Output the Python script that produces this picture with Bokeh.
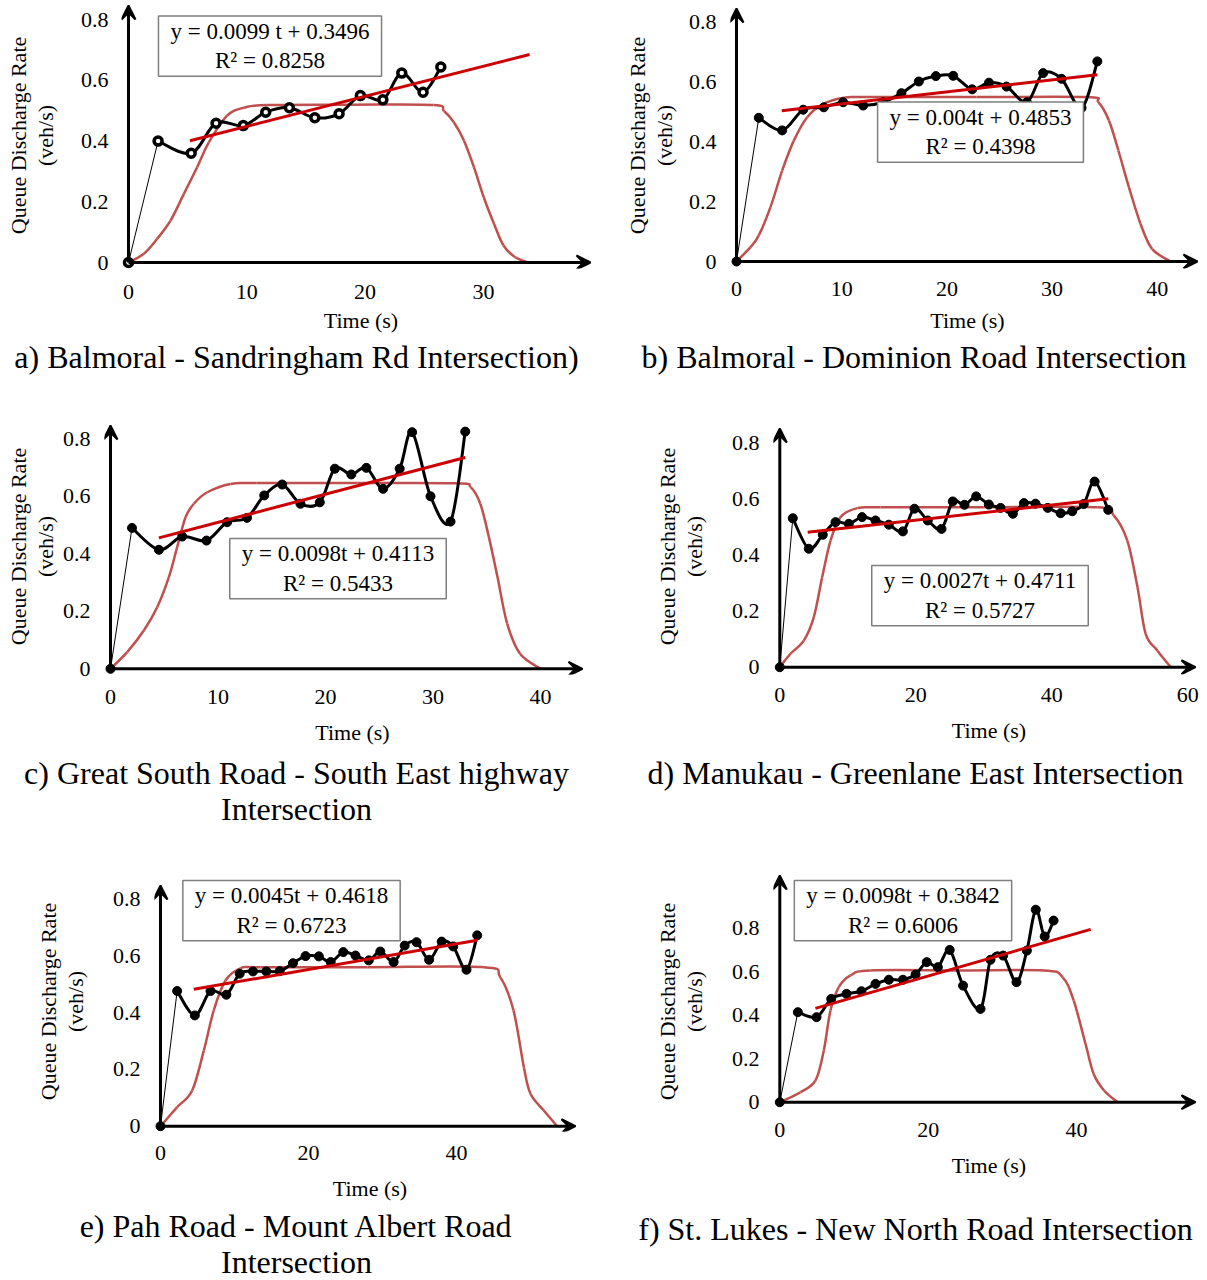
import numpy as np
from bokeh.plotting import figure
from bokeh.models import Range1d, FixedTicker, Arrow, VeeHead, Label, NumeralTickFormatter
from bokeh.layouts import column, row
from bokeh.embed import file_html
from bokeh.resources import INLINE

FONT = "Liberation Serif"
Y_LABEL = "Queue Discharge Rate\n(veh/s)"
X_LABEL = "Time (s)"
Y_TICKS = [0, 0.2, 0.4, 0.6, 0.8]

# ---------------- a) ----------------
a_time = [0, 2.5, 5.3, 7.4, 9.7, 11.6, 13.6, 15.75, 17.8, 19.6, 21.5, 23.1, 24.9, 26.4]
a_rate = [0, 0.40, 0.36, 0.459, 0.451, 0.495, 0.51, 0.477, 0.49, 0.55, 0.536, 0.624, 0.561, 0.644]
a_curve_time = [0, 1.3, 2.42, 3.55, 4.68, 5.8, 6.79, 8.34, 9.75, 11.7, 18.8, 25.8, 26.65, 27.5, 28.35, 29.2, 30.03, 30.9, 31.7, 32.7, 33.8]
a_curve_rate = [0, 0.029, 0.078, 0.138, 0.226, 0.314, 0.396, 0.484, 0.51, 0.519, 0.52, 0.519, 0.50, 0.462, 0.402, 0.314, 0.215, 0.127, 0.056, 0.017, 0]
a_slope, a_intercept = 0.0099, 0.3496
a_trend_span = [5.2, 33.9]
a_equation = "y = 0.0099 t + 0.3496\nR² = 0.8258"
a_caption = "a) Balmoral - Sandringham Rd Intersection)"
a_xticks = [0, 10, 20, 30]

# ---------------- b) ----------------
b_time = [0, 2.12, 4.34, 6.34, 8.3, 10.14, 12.04, 13.94, 15.68, 17.33, 18.95, 20.6, 22.4, 24.0, 25.67, 27.6, 29.15, 30.9, 32.8, 34.3]
b_rate = [0, 0.479, 0.437, 0.506, 0.514, 0.531, 0.52, 0.531, 0.561, 0.60, 0.618, 0.619, 0.574, 0.596, 0.583, 0.531, 0.628, 0.609, 0.512, 0.667]
b_curve_time = [0, 1.33, 2.12, 3.23, 4.34, 5.45, 6.72, 8.3, 10.2, 12.4, 22.8, 33.3, 34.4, 35.4, 36.3, 37.3, 38.4, 39.5, 41.25]
b_curve_rate = [0, 0.048, 0.087, 0.181, 0.303, 0.403, 0.481, 0.526, 0.546, 0.548, 0.548, 0.548, 0.531, 0.47, 0.37, 0.248, 0.126, 0.042, 0]
b_slope, b_intercept = 0.004, 0.4853
b_trend_span = [4.3, 34.3]
b_equation = "y = 0.004t + 0.4853\nR² = 0.4398"
b_caption = "b) Balmoral - Dominion Road Intersection"
b_xticks = [0, 10, 20, 30, 40]

# ---------------- c) ----------------
c_time = [0, 2.0, 4.5, 6.67, 8.93, 10.85, 12.7, 14.3, 15.97, 17.67, 19.47, 20.87, 22.4, 23.8, 25.36, 26.9, 28.06, 29.77, 31.63, 33.0]
c_rate = [0, 0.49, 0.414, 0.46, 0.446, 0.51, 0.525, 0.603, 0.641, 0.574, 0.579, 0.696, 0.676, 0.699, 0.626, 0.696, 0.823, 0.60, 0.512, 0.825]
c_curve_time = [0, 1.55, 3.1, 4.34, 5.43, 6.2, 6.98, 7.75, 9.0, 11.16, 13.6, 23.0, 32.25, 33.5, 34.4, 35.2, 36.0, 36.9, 38.1, 40.0]
c_curve_rate = [0, 0.058, 0.133, 0.214, 0.319, 0.423, 0.527, 0.574, 0.614, 0.643, 0.646, 0.646, 0.645, 0.632, 0.574, 0.458, 0.319, 0.157, 0.052, 0]
c_slope, c_intercept = 0.0098, 0.4113
c_trend_span = [4.5, 33.0]
c_equation = "y = 0.0098t + 0.4113\nR² = 0.5433"
c_caption = "c) Great South Road - South East highway\nIntersection"
c_xticks = [0, 10, 20, 30, 40]

# ---------------- d) ----------------
d_time = [0, 1.91, 4.26, 6.32, 8.19, 10.15, 12.1, 14.07, 16.03, 18.1, 19.8, 21.76, 23.78, 25.44, 27.16, 28.88, 30.74, 32.46, 34.27, 35.9, 37.6, 39.4, 41.3, 43.0, 44.7, 46.3, 48.3]
d_rate = [0, 0.532, 0.423, 0.473, 0.518, 0.512, 0.536, 0.524, 0.509, 0.485, 0.566, 0.524, 0.494, 0.592, 0.58, 0.61, 0.581, 0.569, 0.548, 0.586, 0.584, 0.569, 0.55, 0.557, 0.583, 0.663, 0.562]
d_curve_time = [0, 1.57, 3.53, 5.0, 6.23, 7.46, 8.93, 11.4, 14.8, 30.0, 46.7, 49.1, 51.1, 52.6, 53.8, 55.5, 57.5]
d_curve_rate = [0, 0.048, 0.095, 0.179, 0.321, 0.452, 0.536, 0.568, 0.571, 0.571, 0.571, 0.542, 0.452, 0.286, 0.119, 0.06, 0]
d_slope, d_intercept = 0.0027, 0.4711
d_trend_span = [4.1, 48.3]
d_equation = "y = 0.0027t + 0.4711\nR² = 0.5727"
d_caption = "d) Manukau - Greenlane East Intersection"
d_xticks = [0, 20, 40, 60]

# ---------------- e) ----------------
e_time = [0, 2.25, 4.64, 6.76, 8.9, 10.7, 12.5, 14.3, 16.1, 17.9, 19.6, 21.4, 23.0, 24.7, 26.35, 28.15, 29.7, 31.5, 33.0, 34.6, 36.3, 38.0, 39.55, 41.35, 42.8]
e_rate = [0, 0.476, 0.39, 0.476, 0.463, 0.537, 0.545, 0.545, 0.546, 0.574, 0.599, 0.598, 0.578, 0.613, 0.601, 0.584, 0.615, 0.578, 0.636, 0.648, 0.586, 0.65, 0.633, 0.551, 0.672]
e_curve_time = [0, 2.25, 4.28, 5.86, 7.2, 8.78, 10.8, 13.5, 28.0, 43.7, 45.9, 47.7, 49.1, 50.0, 51.8, 53.6]
e_curve_rate = [0, 0.067, 0.126, 0.267, 0.408, 0.513, 0.556, 0.56, 0.56, 0.56, 0.525, 0.408, 0.208, 0.114, 0.055, 0]
e_slope, e_intercept = 0.0045, 0.4618
e_trend_span = [4.5, 42.8]
e_equation = "y = 0.0045t + 0.4618\nR² = 0.6723"
e_caption = "e) Pah Road - Mount Albert Road\nIntersection"
e_xticks = [0, 20, 40]

# ---------------- f) ----------------
f_time = [0, 2.43, 4.95, 6.93, 8.99, 11.0, 12.9, 14.7, 16.6, 18.3, 19.8, 21.3, 22.9, 24.7, 27.05, 28.4, 30.1, 31.9, 33.3, 34.5, 35.7, 36.9]
f_rate = [0, 0.414, 0.391, 0.475, 0.498, 0.51, 0.544, 0.563, 0.563, 0.587, 0.644, 0.621, 0.70, 0.536, 0.429, 0.655, 0.674, 0.552, 0.697, 0.885, 0.762, 0.835]
f_curve_time = [0, 2.79, 4.81, 5.93, 6.83, 7.95, 9.53, 12.2, 24.0, 35.6, 38.1, 39.6, 41.2, 42.3, 43.7, 45.5]
f_curve_rate = [0, 0.046, 0.1, 0.238, 0.422, 0.529, 0.583, 0.606, 0.606, 0.606, 0.575, 0.468, 0.268, 0.13, 0.054, 0]
f_slope, f_intercept = 0.0098, 0.3842
f_trend_span = [4.8, 41.9]
f_equation = "y = 0.0098t + 0.3842\nR² = 0.6006"
f_caption = "f) St. Lukes - New North Road Intersection"
f_xticks = [0, 20, 40]

# ---------------- layout geometry (page pixels) ----------------
# rows: page top, plot height, caption height, shared frame top / bottom
ROWS = [
    dict(top=0, plot_h=338, cap_h=52, ft=2, fb=268),
    dict(top=390, plot_h=360, cap_h=90, ft=418, fb=674),
    dict(top=840, plot_h=366, cap_h=74, ft=871, fb=1131),
]
GEOM = {
    "a": dict(row=0, x=0, w=603, origin=(128, 262), scale=(11.83, 303.5), fl=121, fr=600,
              tips=(590, 5), ylab=20, tick_y=292, title_y=320, eq=(269.5, 45.5), cap=(296, 356), ring=True),
    "b": dict(row=0, x=603, w=604, origin=(736, 261), scale=(10.52, 300.0), fl=730, fr=1204,
              tips=(1197, 8), ylab=9, tick_y=289, title_y=320, eq=(980, 131.5), cap=(913.5, 356), ring=False),
    "c": dict(row=1, x=0, w=603, origin=(110, 668.3), scale=(10.75, 287.5), fl=104, fr=600,
              tips=(582, 425), ylab=2, tick_y=697, title_y=732, eq=(337.5, 568), cap=(296, 790), ring=False),
    "d": dict(row=1, x=603, w=604, origin=(779.3, 666.7), scale=(6.8, 280.0), fl=773, fr=1204,
              tips=(1195, 428), ylab=22, tick_y=695, title_y=730, eq=(979.5, 595), cap=(915, 772), ring=False),
    "e": dict(row=2, x=0, w=603, origin=(160, 1125.7), scale=(7.4, 284.0), fl=154, fr=585,
              tips=(575, 885), ylab=22, tick_y=1153, title_y=1188, eq=(291, 910), cap=(296, 1243), ring=False),
    "f": dict(row=2, x=603, w=604, origin=(779.3, 1101.7), scale=(7.42, 217.5), fl=773, fr=1204,
              tips=(1195, 875), ylab=22, tick_y=1130, title_y=1165, eq=(902.5, 910), cap=(915, 1228), ring=False),
}

PANELS = {
    "a": (a_time, a_rate, a_curve_time, a_curve_rate, a_slope, a_intercept, a_trend_span, a_equation, a_caption, a_xticks),
    "b": (b_time, b_rate, b_curve_time, b_curve_rate, b_slope, b_intercept, b_trend_span, b_equation, b_caption, b_xticks),
    "c": (c_time, c_rate, c_curve_time, c_curve_rate, c_slope, c_intercept, c_trend_span, c_equation, c_caption, c_xticks),
    "d": (d_time, d_rate, d_curve_time, d_curve_rate, d_slope, d_intercept, d_trend_span, d_equation, d_caption, d_xticks),
    "e": (e_time, e_rate, e_curve_time, e_curve_rate, e_slope, e_intercept, e_trend_span, e_equation, e_caption, e_xticks),
    "f": (f_time, f_rate, f_curve_time, f_curve_rate, f_slope, f_intercept, f_trend_span, f_equation, f_caption, f_xticks),
}

CURVE_COLOR = "#C0504D"
TREND_COLOR = "#CC0000"


def smooth(x, y):
    """Bezier control points for a smoothed line through the points (Excel 'smoothed line')."""
    x = np.asarray(x, float)
    y = np.asarray(y, float)
    n = len(x)
    xp = np.concatenate([[x[0]], x, [x[-1]]])
    yp = np.concatenate([[y[0]], y, [y[-1]]])
    return dict(
        x0=x[:-1], y0=y[:-1], x1=x[1:], y1=y[1:],
        cx0=x[:-1] + (xp[2:n + 1] - xp[0:n - 1]) / 6.0,
        cy0=y[:-1] + (yp[2:n + 1] - yp[0:n - 1]) / 6.0,
        cx1=x[1:] - (xp[3:n + 2] - xp[1:n]) / 6.0,
        cy1=y[1:] - (yp[3:n + 2] - yp[1:n]) / 6.0,
    )


def make_panel(key):
    g = GEOM[key]
    r = ROWS[g["row"]]
    t, q, ct, cq, slope, icpt, span, eq, cap, xticks = PANELS[key]
    fx, w = g["x"], g["w"]
    fy, h = r["top"], r["plot_h"]
    ox, oy = g["origin"]
    sx, sy = g["scale"]
    fl, fr, ft, fb = g["fl"], g["fr"], r["ft"], r["fb"]

    def to_x(px):
        return (px - ox) / sx

    def to_y(py):
        return (oy - py) / sy

    p = figure(width=w, height=h, output_backend="svg", toolbar_location=None,
               x_range=Range1d(to_x(fl), to_x(fr)), y_range=Range1d(to_y(fb), to_y(ft)),
               min_border_left=int(round(fl - fx)), min_border_right=int(round(fx + w - fr)),
               min_border_top=int(round(ft - fy)), min_border_bottom=int(round(fy + h - fb)))
    p.outline_line_color = None
    p.grid.visible = False
    p.background_fill_color = "white"
    p.border_fill_color = "white"

    xa = p.xaxis[0]
    ya = p.yaxis[0]
    xa.ticker = FixedTicker(ticks=xticks)
    ya.ticker = FixedTicker(ticks=Y_TICKS)
    ya.formatter = NumeralTickFormatter(format="0.[0]")
    for ax in (xa, ya):
        ax.axis_line_color = None
        ax.major_tick_line_color = None
        ax.minor_tick_line_color = None
        ax.major_tick_in = 0
        ax.major_tick_out = 0
        ax.major_label_text_font = FONT
        ax.major_label_text_font_size = "22px"
        ax.major_label_text_color = "black"
        ax.axis_label_text_font = FONT
        ax.axis_label_text_font_size = "22px"
        ax.axis_label_text_font_style = "normal"
        ax.axis_label_text_color = "black"
        ax.axis_label_text_line_height = 1.1
    xa.axis_label = X_LABEL
    ya.axis_label = Y_LABEL
    xa.major_label_standoff = int(round(g["tick_y"] - fb - 8))
    xa.axis_label_standoff = int(round(g["title_y"] - g["tick_y"] - 22))
    ya.major_label_standoff = int(round(fl - (ox - 20)))
    ya.axis_label_standoff = g["ylab"]

    # axes drawn as arrows
    tipx, tipy = g["tips"]
    p.add_layout(Arrow(end=VeeHead(size=14, fill_color="black", line_color="black", line_width=2),
                       x_start=0, y_start=0, x_end=to_x(tipx), y_end=0, line_width=3, line_color="black"))
    p.add_layout(Arrow(end=VeeHead(size=14, fill_color="black", line_color="black", line_width=2),
                       x_start=0, y_start=0, x_end=0, y_end=to_y(tipy), line_width=3, line_color="black"))

    # theoretical discharge profile
    p.bezier(**smooth(ct, cq), line_color=CURVE_COLOR, line_width=2.5)

    # observed rates
    p.line(t[:2], q[:2], line_color="black", line_width=1)
    p.bezier(**smooth(t[1:], q[1:]), line_color="black", line_width=3)
    if g["ring"]:
        p.scatter(t, q, size=8, fill_color="white", line_color="black", line_width=3.5)
    else:
        p.scatter(t, q, size=9, fill_color="black", line_color="black")

    # linear trend line
    p.line(span, [slope * v + icpt for v in span], line_color=TREND_COLOR, line_width=3)

    # equation box
    ex, ey = g["eq"]
    p.add_layout(Label(x=to_x(ex), y=to_y(ey), text=eq, text_align="center", text_baseline="middle",
                       text_font=FONT, text_font_size="23px", text_color="black", text_line_height=1.17,
                       border_line_color="#7F7F7F", border_line_width=1.5, background_fill_color="white",
                       padding=dict(left=12, right=12, top=3, bottom=3)))
    return p


def make_caption(key):
    g = GEOM[key]
    r = ROWS[g["row"]]
    w, h = g["w"], r["cap_h"]
    top = r["top"] + r["plot_h"]
    cap = PANELS[key][8]
    c = figure(width=w, height=h, output_backend="svg", toolbar_location=None,
               x_range=Range1d(0, w), y_range=Range1d(h, 0),
               x_axis_type=None, y_axis_type=None, min_border=0)
    c.outline_line_color = None
    c.grid.visible = False
    c.border_fill_color = "white"
    cx, cy = g["cap"]
    c.add_layout(Label(x=cx - g["x"], y=cy - top, text=cap, text_align="center", text_baseline="middle",
                       text_font=FONT, text_font_size="32px", text_color="black", text_line_height=1.0))
    return c


figs = {k: make_panel(k) for k in "abcdef"}
caps = {k: make_caption(k) for k in "abcdef"}
layout = column(
    row(figs["a"], figs["b"]), row(caps["a"], caps["b"]),
    row(figs["c"], figs["d"]), row(caps["c"], caps["d"]),
    row(figs["e"], figs["f"]), row(caps["e"], caps["f"]),
)

with open("out.html", "w") as fh:
    fh.write(file_html(layout, INLINE))
